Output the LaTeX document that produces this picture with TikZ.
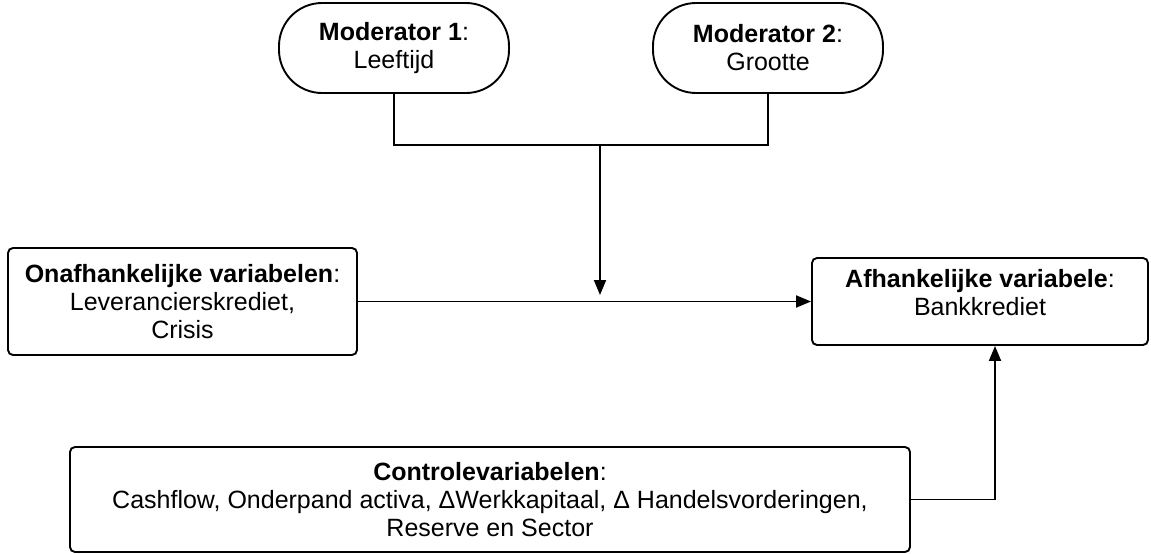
\documentclass[tikz,border=0pt]{standalone}
\usepackage{fontspec}
\setmainfont{Liberation Sans}
\usetikzlibrary{arrows.meta}

\begin{document}
\begin{tikzpicture}[x=1pt, y=-1pt, line width=1.9pt,
  font=\fontsize{25}{28}\selectfont,
  box/.style={draw, rounded corners=5pt, align=center, inner sep=0pt},
  pill/.style={draw, rounded corners=43pt, align=center, minimum width=230pt, minimum height=90pt},
  arr/.style={-{Triangle[length=15pt,width=12pt]}}]
  \useasboundingbox (0,0) rectangle (1151,554);
  % moderatoren bovenaan
  \node[pill] (mod1) at (394,48) {\textbf{Moderator 1}:\\Leeftijd};
  \node[pill] (mod2) at (768,48) {\textbf{Moderator 2}:\\Grootte};
  % hoofdvariabelen
  \node[box, minimum width=349pt, minimum height=107pt] (onaf) at (182.5,301.5)
    {\textbf{Onafhankelijke variabelen}:\\Leverancierskrediet,\\Crisis};
  \node[box, minimum width=336pt, minimum height=87pt, text depth=18pt] (afh) at (980,301.5)
    {\textbf{Afhankelijke variabele}:\\Bankkrediet};
  \node[box, minimum width=840pt, minimum height=105pt] (ctrl) at (490,499.5)
    {\textbf{Controlevariabelen}:\\Cashflow, Onderpand activa, ΔWerkkapitaal, Δ Handelsvorderingen,\\Reserve en Sector};
  % verbindingen
  \coordinate (join) at (600,145);
  \coordinate (tip) at (600,295);
  \draw (mod1.south) |- (join) -| (mod2.south);
  \draw[arr] (join) -- (tip);
  \draw[arr] (onaf.east) -- (afh.west);
  \draw[arr] (ctrl.east) -| ([xshift=15pt]afh.south);
\end{tikzpicture}
\end{document}
